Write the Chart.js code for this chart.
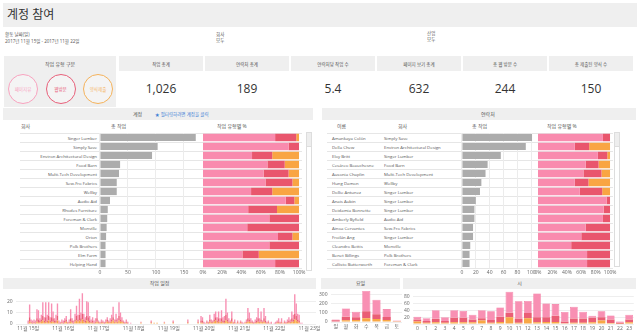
<!DOCTYPE html>
<html>
<head>
<meta charset="utf-8">
<script src="https://cdn.jsdelivr.net/npm/chart.js@4"></script>
<style>
body{margin:0;width:640px;height:336px;overflow:hidden;background:#fff;position:relative;
  font-family:"Open Sans","Noto Sans CJK KR",sans-serif;color:#555}
.box{position:absolute;background:#efefef}
.t{position:absolute;white-space:nowrap;font-size:5px;line-height:6px}
.row{font-size:4.3px;color:#555}
canvas{position:absolute}
.circle{position:absolute;width:28px;height:28px;border-radius:50%;border:1.3px solid;
  font-size:4.5px;display:flex;align-items:center;justify-content:center;background:#f4f4f4}
.scroll{position:absolute;width:4px;border:1px solid #ddd;background:#fff}
.thumb{position:absolute;left:0;top:0;width:4px;height:13px;background:#eee;border-bottom:1px solid #ddd}
</style>
</head>
<body>
<div class="box" style="left:3px;top:3px;width:634px;height:24px"></div>
<div class="t" style="left:7px;top:7px;font-size:12px;line-height:16px;color:#333">계정 참여</div>
<div class="t" style="left:5px;top:31px;font-size:4.5px">활동 날짜(일)</div>
<div class="t" style="left:5px;top:38px;font-size:4.5px">2017년 11월 15일 - 2017년 11월 22일</div>
<div class="t" style="left:216px;top:31px;font-size:4.5px">회사</div>
<div class="t" style="left:216px;top:37px;font-size:4.5px">모두</div>
<div class="t" style="left:427px;top:30px;font-size:4.5px">산업</div>
<div class="t" style="left:427px;top:36px;font-size:4.5px">모두</div>

<div class="box" style="left:4px;top:56px;width:112px;height:51px"></div>
<div class="t" style="left:4px;width:112px;text-align:center;top:61px">작업 유형 구분</div>
<div id="circles"></div>
<div id="kpis"></div>

<div class="box" style="left:3px;top:108px;width:310px;height:12px"></div>
<div class="t" style="left:133px;top:111px">계정</div>
<div class="t" style="left:155px;top:111px;color:#3f7fd6;font-size:4.5px">★ 필터링하려면 계정을 클릭</div>
<div class="t" style="left:21px;top:123px">회사</div>
<div class="t" style="left:111px;top:123px">총 작업</div>
<div class="t" style="left:217px;top:123px">작업 유형별 %</div>

<div class="box" style="left:322px;top:108px;width:314px;height:12px"></div>
<div class="t" style="left:481px;top:111px">연락처</div>
<div class="t" style="left:337px;top:123px">이름</div>
<div class="t" style="left:398px;top:123px">회사</div>
<div class="t" style="left:472px;top:123px">총 작업</div>
<div class="t" style="left:547px;top:123px">작업 유형별 %</div>

<div style="position:absolute;left:20px;top:133px;width:282px;height:136px;
  background:repeating-linear-gradient(to bottom,#e6e6e6 0,#e6e6e6 1px,transparent 1px,transparent 9px)"></div>
<div style="position:absolute;left:327px;top:133px;width:286px;height:136px;
  background:repeating-linear-gradient(to bottom,#e6e6e6 0,#e6e6e6 1px,transparent 1px,transparent 9px)"></div>
<div id="accRows"></div>
<div id="conRows"></div>
<div class="scroll" style="left:306px;top:132px;height:137px"><div class="thumb"></div></div>
<div class="scroll" style="left:614px;top:132px;height:133px"><div class="thumb"></div></div>

<canvas id="accTotal" width="110" height="150"></canvas>
<canvas id="accPct" width="110" height="150"></canvas>
<canvas id="conTotal" width="90" height="150"></canvas>
<canvas id="conPct" width="90" height="150"></canvas>

<div class="box" style="left:3px;top:278px;width:313px;height:11px"></div>
<div class="t" style="left:3px;width:313px;text-align:center;top:280px">작업 일정</div>
<div class="box" style="left:321px;top:278px;width:79px;height:11px"></div>
<div class="t" style="left:321px;width:79px;text-align:center;top:280px">요일</div>
<div class="box" style="left:403px;top:278px;width:233px;height:11px"></div>
<div class="t" style="left:403px;width:233px;text-align:center;top:280px">시</div>

<canvas id="timeline" width="320" height="50"></canvas>
<canvas id="weekday" width="90" height="50"></canvas>
<canvas id="hour" width="240" height="50"></canvas>

<script>
// task types
const taskTypes = ['페이지뷰', '웹방문', '양식제출'];

// KPI cards
const kpiLabels = ['작업 총계', '연락처 총계', '연락처당 작업 수', '페이지 보기 총계', '총 웹 방문 수', '총 제출된 양식 수'];
const kpiValues = ['1,026', '189', '5.4', '632', '244', '150'];

// accounts
const accounts = ['Singer Lumber', 'Simply Save', 'Environ Architectural Design', 'Food Barn',
    'Multi-Tech Development', 'Sew-Fro Fabrics', 'Wellby', 'Audio Aid', 'Rhodes Furniture',
    'Foreman & Clark', 'Monville', 'Orion', 'Polk Brothers', 'Elm Farm', 'Helping Hand'];
const accountTasks = [171, 103, 93, 36, 34, 30, 30, 18, 14, 13, 12, 11, 10, 10, 10];
const accountPageView = [75, 89, 51, 67, 63, 65, 50, 86, 47, 69, 46, 78, 69, 41, 75];
const accountWebVisit = [22, 11, 21, 18, 26, 28, 22, 9, 30, 31, 54, 15, 31, 17, 25];
const accountForm = [3, 0, 28, 15, 11, 7, 28, 5, 23, 0, 0, 7, 0, 42, 0];

// contacts
const contacts = ['Amankaya Colón', 'Della Chew', 'Eloy Britt', 'Cesáreo Beauchesne', 'Ausonia Chaplin',
    'Hung Damon', 'Dollie Antunez', 'Anais Aubin', 'Deidamia Bonnette', 'Amberly Byfield',
    'Ainoa Cervantes', 'Froilán Ang', 'Cleandro Bettis', 'Benet Billings', 'Callisto Butterworth'];
const contactCompanies = ['Simply Save', 'Environ Architectural Design', 'Singer Lumber', 'Food Barn',
    'Multi-Tech Development', 'Wellby', 'Singer Lumber', 'Singer Lumber', 'Singer Lumber', 'Audio Aid',
    'Sew-Fro Fabrics', 'Singer Lumber', 'Monville', 'Polk Brothers', 'Foreman & Clark'];
const contactTasks = [101, 92, 56, 37, 34, 28, 26, 20, 18, 18, 16, 16, 12, 11, 11];
const contactPageView = [90, 51, 83, 66, 63, 51, 58, 95, 91, 90, 66, 60, 46, 68, 68];
const contactWebVisit = [10, 20, 13, 18, 25, 19, 31, 5, 9, 10, 34, 40, 54, 32, 32];
const contactForm = [0, 29, 4, 16, 12, 30, 11, 0, 0, 0, 0, 0, 0, 0, 0];

// hourly timeline, 11/15 00h .. 11/22 23h (one line per day)
const dayLabels = ['11월 15일', '11월 16일', '11월 17일', '11월 18일', '11월 19일',
    '11월 20일', '11월 21일', '11월 22일', '11월 23일'];
const timePageView = [
    2,11,2,2,2,2,8,8,2,4,12,3,13,5,12,3,12,6,2,5,11,2,1,2,
    2,2,3,1,2,8,2,2,5,9,4,14,5,18,5,3,13,13,4,2,3,2,3,7,
    1,1,2,1,1,2,2,1,3,4,9,2,5,3,12,6,3,1,1,2,1,0,1,0,
    0,0,0,0,0,1,0,0,0,0,0,0,1,0,0,0,0,0,0,0,0,1,0,0,
    0,0,0,1,0,0,0,0,0,0,0,0,0,2,0,0,0,0,0,0,2,0,4,3,
    1,1,1,1,4,2,1,5,5,3,6,3,7,3,4,14,6,3,1,6,1,2,1,1,
    1,1,1,1,1,2,9,6,3,1,1,2,3,9,3,7,1,9,4,1,1,1,1,0,
    1,1,1,3,1,3,1,1,1,2,3,2,6,4,17,11,5,5,1,1,0,0,0,0
];
const timeWebVisit = [
    1,4,1,1,1,1,3,3,2,2,4,2,4,2,4,2,4,3,2,2,4,1,1,1,
    1,2,2,1,1,3,2,1,2,4,2,5,3,5,2,2,4,4,2,1,2,1,1,3,
    1,1,1,1,1,1,2,1,1,2,3,1,2,1,4,2,1,1,1,1,1,0,0,0,
    0,0,0,0,0,0,0,0,0,0,0,0,1,0,0,0,0,0,0,0,0,0,0,0,
    0,0,0,1,0,0,0,0,0,0,0,0,0,1,0,0,0,0,0,0,1,0,2,2,
    1,0,1,1,2,1,1,2,3,2,3,1,3,2,2,5,2,1,1,3,1,1,0,1,
    0,1,1,0,0,1,3,2,1,1,1,1,2,3,1,2,1,3,2,1,1,0,1,0,
    0,1,1,1,1,1,0,1,1,1,2,1,3,2,5,4,2,2,0,0,0,0,0,0
];
const timeForm = [
    0,2,1,0,1,0,2,1,1,2,3,1,2,1,3,1,2,2,1,1,3,0,0,1,
    0,1,2,0,1,2,1,0,2,3,2,3,2,4,2,1,3,2,1,1,1,0,1,2,
    1,0,1,1,0,1,2,1,1,2,3,1,2,1,3,2,2,1,0,1,0,0,0,0,
    0,0,0,0,0,1,0,0,0,0,0,0,1,0,1,0,1,0,0,0,0,1,0,0,
    0,0,0,1,0,0,0,0,0,0,0,0,0,1,0,0,0,0,0,0,1,0,1,1,
    0,0,1,0,2,1,1,2,3,1,2,1,2,1,1,3,2,1,1,2,0,1,0,1,
    0,1,0,0,1,1,2,2,1,1,0,1,1,2,1,2,1,2,1,0,1,0,0,0,
    0,0,1,1,0,1,0,1,0,1,1,1,2,2,4,3,2,1,0,0,0,0,0,0
];

// weekday
const weekdays = ['일', '월', '화', '수', '목', '금', '토'];
const weekdayPageView = [10, 90, 60, 220, 160, 85, 7];
const weekdayWebVisit = [12, 38, 30, 78, 50, 33, 3];
const weekdayForm = [6, 20, 22, 40, 33, 22, 7];

// hour of day
const hours = ['0','1','2','3','4','5','6','7','8','9','10','11','12','13','14','15','16','17','18','19','20','21','22','23'];
const hourPageView = [8, 8, 25, 11, 22, 20, 14, 23, 25, 27, 61, 50, 35, 69, 40, 34, 28, 34, 20, 6, 17, 12, 4, 14];
const hourWebVisit = [6, 5, 10, 5, 13, 13, 8, 7, 8, 15, 13, 12, 15, 15, 14, 18, 5, 12, 12, 13, 10, 10, 2, 8];
const hourForm = [7, 4, 5, 4, 5, 5, 5, 10, 4, 6, 20, 4, 17, 5, 6, 6, 2, 4, 4, 5, 10, 3, 1, 5];

const pink = '#f98bae', red = '#e9566d', orange = '#f9a543', gray = '#acacac';
const colPink = '#f890b3', colRed = '#ea5e75', colOrange = '#f8a846';

Chart.defaults.font.family = '"Open Sans","Noto Sans CJK KR",sans-serif';
Chart.defaults.font.size = 5;
Chart.defaults.color = '#666';
Chart.defaults.animation = false;
Chart.defaults.maintainAspectRatio = false;
Chart.defaults.plugins.legend.display = false;
Chart.defaults.plugins.tooltip.enabled = false;

// circles
const circleColors = ['#f8a3bf', '#e8607a', '#f5b35c'];
const circlesEl = document.getElementById('circles');
taskTypes.forEach((type, i) => {
    const c = document.createElement('div');
    c.className = 'circle';
    c.style.left = (8 + i * 37.5) + 'px';
    c.style.top = '74px';
    c.style.borderColor = circleColors[i];
    c.style.color = circleColors[i];
    c.textContent = type;
    circlesEl.appendChild(c);
});

// KPI cards
const kpisEl = document.getElementById('kpis');
kpiLabels.forEach((label, i) => {
    const left = 119 + i * 86;
    const head = document.createElement('div');
    head.className = 'box';
    head.style.cssText = `left:${left}px;top:56px;width:84px;height:15px`;
    kpisEl.appendChild(head);
    const lab = document.createElement('div');
    lab.className = 't';
    lab.style.cssText = `left:${left}px;width:84px;text-align:center;top:61px;font-size:4.5px`;
    lab.textContent = label;
    kpisEl.appendChild(lab);
    const val = document.createElement('div');
    val.className = 't';
    val.style.cssText = `left:${left}px;width:84px;text-align:center;top:81px;font-size:12px;line-height:16px;color:#333`;
    val.textContent = kpiValues[i];
    kpisEl.appendChild(val);
});

// table rows
const accRowsEl = document.getElementById('accRows');
accounts.forEach((name, i) => {
    const d = document.createElement('div');
    d.className = 't row';
    d.style.cssText = `left:20px;width:77px;text-align:right;top:${135 + i * 9}px`;
    d.textContent = name;
    accRowsEl.appendChild(d);
});
const conRowsEl = document.getElementById('conRows');
contacts.forEach((name, i) => {
    const a = document.createElement('div');
    a.className = 't row';
    a.style.cssText = `left:332px;top:${135 + i * 9}px`;
    a.textContent = name;
    conRowsEl.appendChild(a);
    const b = document.createElement('div');
    b.className = 't row';
    b.style.cssText = `left:384px;top:${135 + i * 9}px`;
    b.textContent = contactCompanies[i];
    conRowsEl.appendChild(b);
});

// resize a chart so that its plot area lands on the given box of the page
function fitPlot(chart, left, top, right, bottom) {
    for (let pass = 0; pass < 2; pass++) {
        const a = chart.chartArea;
        const w = Math.round(right - left + chart.width - (a.right - a.left));
        const h = Math.round(bottom - top + chart.height - (a.bottom - a.top));
        chart.resize(w, h);
    }
    const b = chart.chartArea;
    chart.canvas.style.left = Math.round(left - b.left) + 'px';
    chart.canvas.style.top = Math.round(top - b.top) + 'px';
}

function totalBar(id, labels, values, max, step) {
    return new Chart(document.getElementById(id), {
        type: 'bar',
        data: {
            labels: labels,
            datasets: [{ data: values, backgroundColor: gray, barPercentage: 0.8, categoryPercentage: 1 }]
        },
        options: {
            responsive: false,
            indexAxis: 'y',
            scales: {
                x: {
                    min: 0, max: max,
                    grid: { color: '#ececec', drawTicks: false },
                    border: { display: false },
                    ticks: { stepSize: step, includeBounds: false, autoSkip: false, padding: 1.5, maxRotation: 0 }
                },
                y: { display: false }
            }
        }
    });
}

function pctBar(id, labels, a, b, c) {
    return new Chart(document.getElementById(id), {
        type: 'bar',
        data: {
            labels: labels,
            datasets: [
                { data: a, backgroundColor: pink },
                { data: b, backgroundColor: red },
                { data: c, backgroundColor: orange }
            ].map(ds => Object.assign(ds, { barPercentage: 0.82, categoryPercentage: 1 }))
        },
        options: {
            responsive: false,
            indexAxis: 'y',
            scales: {
                x: {
                    stacked: true, min: 0, max: 100,
                    grid: { display: false, drawTicks: false },
                    border: { display: false },
                    ticks: { stepSize: 20, autoSkip: false, padding: 1.5, maxRotation: 0, callback: v => v + '%' }
                },
                y: { stacked: true, display: false }
            }
        }
    });
}

fitPlot(totalBar('accTotal', accounts, accountTasks, 175, 50), 100, 133, 198, 268);
fitPlot(pctBar('accPct', accounts, accountPageView, accountWebVisit, accountForm), 203, 133, 299, 268);
fitPlot(totalBar('conTotal', contacts, contactTasks, 105, 20), 462, 133, 535, 268);
fitPlot(pctBar('conPct', contacts, contactPageView, contactWebVisit, contactForm), 538, 133, 610, 268);

function stackedColumns(id, labels, form, web, page, max, step, opts) {
    return new Chart(document.getElementById(id), {
        type: 'bar',
        data: {
            labels: labels,
            datasets: [
                { data: form, backgroundColor: colOrange },
                { data: web, backgroundColor: colRed },
                { data: page, backgroundColor: colPink, borderColor: '#f2729c', borderWidth: opts.border }
            ].map(ds => Object.assign(ds, { barPercentage: opts.bar, categoryPercentage: 1 }))
        },
        options: {
            responsive: false,
            layout: { padding: { right: opts.padRight || 0 } },
            scales: {
                x: {
                    stacked: true,
                    grid: { display: false, drawTicks: false },
                    border: { display: false },
                    ticks: { autoSkip: false, maxRotation: 0, minRotation: 0, padding: 2 }
                },
                y: {
                    stacked: true, min: 0, max: max,
                    grid: { color: '#eeeeee', drawTicks: false },
                    border: { display: false },
                    ticks: { stepSize: step, includeBounds: false, autoSkip: false, padding: 3, callback: opts.yLabel }
                }
            }
        }
    });
}

// timeline with empty hours before the first day and after the last
const lead = 8, tail = 5;
const timeLabels = [];
for (let i = 0; i < lead + timePageView.length + tail; i++) timeLabels.push('');
dayLabels.forEach((d, i) => { timeLabels[lead + i * 24] = d; });
const padSeries = arr => Array(lead).fill(null).concat(arr, Array(tail).fill(null));

fitPlot(stackedColumns('timeline', timeLabels, padSeries(timeForm), padSeries(timeWebVisit), padSeries(timePageView),
    28, 10, { bar: 0.95, border: 0, padRight: 8, yLabel: v => v }), 16, 292, 316, 324);
fitPlot(stackedColumns('weekday', weekdays, weekdayForm, weekdayWebVisit, weekdayPageView,
    337, 100, { bar: 0.8, border: 0.6, yLabel: v => v }), 331, 291, 402, 322);
fitPlot(stackedColumns('hour', hours, hourForm, hourWebVisit, hourPageView,
    96, 20, { bar: 0.84, border: 0.6, yLabel: v => v === 0 ? '' : v }), 413, 291, 634, 324);
</script>
</body>
</html>
